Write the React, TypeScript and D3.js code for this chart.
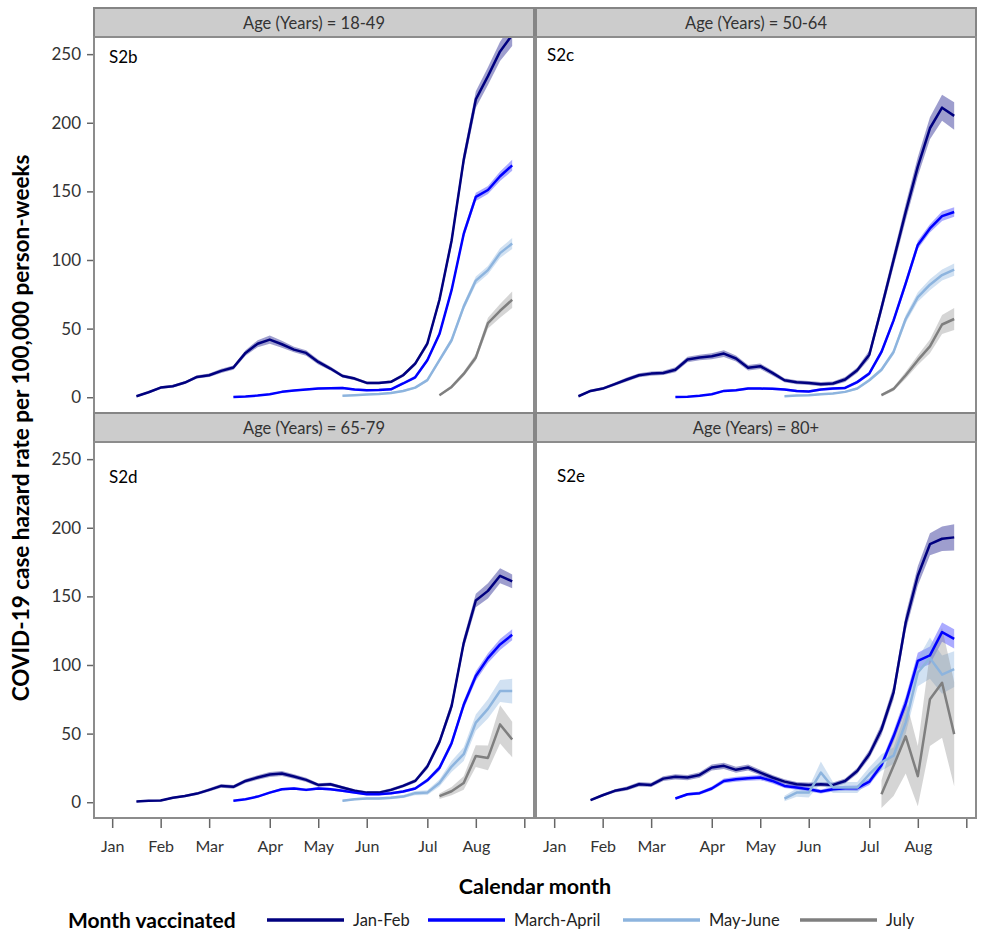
import React, { useRef, useEffect } from "react";
import * as d3 from "d3";

// x axis is week of the year, ticks at the first week of each month
const monthWeeks = [1, 5, 9, 14, 18, 22, 27, 31, 35];
const monthLabels = ["Jan", "Feb", "Mar", "Apr", "May", "Jun", "Jul", "Aug", ""];
const yTicks = [0, 50, 100, 150, 200, 250];

const groups = ["Jan-Feb", "March-April", "May-June", "July"];
const groupColors = ["#00007f", "#0000ff", "#8db4de", "#7f7f7f"];
const bandOpacity = [0.38, 0.33, 0.4, 0.33];

const ageGroups = ["18-49", "50-64", "65-79", "80+"];
const panelTags = ["S2b", "S2c", "S2d", "S2e"];
const startWeeks = [
  [3, 11, 20, 28],
  [3, 11, 20, 28],
  [3, 11, 20, 28],
  [4, 11, 20, 28],
];

// S2b: 18-49
const s2bJanFeb = [0.7, 3.6, 7, 8, 10.7, 14.8, 16, 19.2, 21.6, 32.3, 39, 42, 38.6, 34.7, 32.3, 25.7, 20.9, 15.5, 13.6, 10.4, 10.4, 11.2, 16, 24.5, 39, 71, 114, 173, 217, 234, 252, 264];
const s2bMarApr = [0.2, 0.5, 1.2, 2.2, 3.9, 4.9, 5.6, 6.3, 6.6, 6.8, 5.6, 5.1, 5.3, 5.8, 10, 14.5, 27, 46, 78, 119, 146, 151, 161, 169];
const s2bMayJun = [1, 1.5, 2, 2.4, 3, 4.5, 7, 12.5, 27, 41.5, 66, 85, 92.6, 105, 112];
const s2bJuly = [1.5, 7.5, 17, 29, 54, 63, 71];
const s2bJanFebCi = [0.8, 0.8, 1, 1, 1, 1.2, 1.2, 1.5, 1.5, 2, 2.5, 3, 2.5, 2, 2, 1.8, 1.5, 1.2, 1.2, 1, 1, 1, 1.2, 1.5, 2, 3, 4, 5, 6, 6.5, 7, 8];
const s2bMarAprCi = [0.3, 0.3, 0.4, 0.5, 0.6, 0.7, 0.7, 0.8, 0.8, 0.8, 0.8, 0.8, 0.8, 0.9, 1, 1.2, 1.5, 2, 2.5, 3, 3, 3, 3.5, 4];
const s2bMayJunCi = [0.4, 0.5, 0.5, 0.5, 0.6, 0.7, 0.9, 1.2, 1.5, 2, 2.5, 3, 3, 3.5, 4];
const s2bJulyCi = [0.8, 1.2, 1.8, 2.5, 4, 5, 6];

// S2c: 50-64
const s2cJanFeb = [0.7, 4.6, 6.3, 9.5, 12.9, 16, 17.2, 17.7, 20, 27.5, 28.9, 29.9, 31.8, 28.2, 21.4, 22.6, 17.7, 12.4, 10.9, 10.4, 9.5, 10, 12.9, 19.7, 31, 65, 100, 135, 168, 196, 211, 205];
const s2cMarApr = [0.2, 0.4, 1, 2.2, 4.6, 5.1, 6.3, 6.3, 6.1, 5.6, 4.6, 4.1, 5.6, 6.3, 6.8, 11, 17.3, 33, 56, 83, 111, 123, 132, 135];
const s2cMayJun = [0.7, 1.2, 1.4, 2.2, 2.7, 3.9, 6.3, 12.4, 20, 33, 57, 73, 82, 89, 93];
const s2cJuly = [1.5, 6, 16, 27, 37, 53, 57];
const s2cJanFebCi = [0.8, 1, 1, 1.2, 1.5, 1.5, 1.5, 1.5, 1.8, 2, 2, 2.2, 2.5, 2.2, 2, 2, 1.8, 1.5, 1.5, 1.5, 1.5, 1.5, 1.8, 2, 3, 4, 5, 6, 7, 8, 9.5, 10];
const s2cMarAprCi = [0.3, 0.3, 0.4, 0.6, 0.8, 0.8, 0.9, 0.9, 0.9, 0.9, 0.9, 0.9, 0.9, 1, 1, 1.2, 1.5, 2, 2.5, 3, 3, 3, 3.5, 3.5];
const s2cMayJunCi = [0.4, 0.5, 0.5, 0.5, 0.6, 0.7, 0.9, 1.2, 1.5, 2, 3, 3.5, 4, 4, 4.5];
const s2cJulyCi = [1, 1.5, 2.5, 3.5, 5, 7, 8];

// S2d: 65-79
const s2dJanFeb = [0.5, 1, 1.2, 3.2, 4.6, 6.3, 9, 11.9, 11.2, 15.5, 18, 20.2, 20.9, 18.7, 16.3, 12.6, 13.1, 10.7, 8.3, 7, 7, 9, 11.9, 15.5, 26, 44, 70, 116, 147, 154, 165, 161];
const s2dMarApr = [1, 2.2, 4.1, 7, 9.5, 10, 9, 10, 9.5, 8.3, 7, 5.8, 5.8, 6.6, 7.8, 10, 16, 25, 43, 71, 92, 105, 115, 122];
const s2dMayJun = [1, 2.2, 2.7, 2.7, 3.2, 4.1, 6.6, 7, 14, 26, 35, 58, 68, 81, 81];
const s2dJuly = [4.4, 8, 14, 33.6, 32.3, 56.7, 45.7];
const s2dJanFebCi = [0.5, 0.5, 0.6, 0.8, 0.9, 1, 1.2, 1.3, 1.3, 1.5, 1.6, 1.8, 1.8, 1.6, 1.5, 1.3, 1.3, 1.2, 1.1, 1, 1, 1.1, 1.2, 1.4, 2, 2.5, 3.5, 4, 5, 5.5, 5.5, 5];
const s2dMarAprCi = [0.5, 0.6, 0.7, 0.8, 0.9, 1, 1, 1, 1, 0.9, 0.9, 0.8, 0.8, 0.9, 1, 1.1, 1.5, 2, 2.5, 3, 3.5, 3.5, 4, 4];
const s2dMayJunCi = [0.6, 0.8, 0.9, 0.9, 1, 1.1, 1.5, 1.8, 2.5, 4, 5, 6, 7, 8, 9];
const s2dJulyCi = [2, 3, 5, 8, 9, 14, 13];

// S2e: 80+
const s2eJanFeb = [1.5, 5.1, 8.3, 10, 13.1, 12.6, 17.2, 18.5, 18, 19.9, 25.3, 26.5, 23.6, 25.3, 21.6, 18, 15, 13.1, 12.6, 13.1, 12.6, 15.5, 22.8, 35, 53, 80, 131, 165, 188, 192, 193];
const s2eMarApr = [2.7, 5.8, 6.6, 10, 15.5, 16.8, 17.5, 18, 15.5, 11.9, 10.7, 9.5, 7.8, 9.5, 10.2, 10.2, 15, 27, 48, 72, 103, 107, 124, 119];
const s2eMayJun = [2.7, 7, 7, 21.6, 10.7, 10.7, 10.7, 20.4, 29, 34, 58, 94.5, 105, 93, 97];
const s2eJuly = [5.8, 26.5, 48, 19, 75, 87, 49.6];
const s2eJanFebCi = [0.8, 1, 1.2, 1.4, 1.6, 1.6, 1.8, 1.9, 1.9, 2, 2.2, 2.3, 2.2, 2.2, 2, 1.9, 1.8, 1.7, 1.7, 1.7, 1.7, 1.8, 2.2, 3, 4, 5, 6, 7, 8, 9, 9.5];
const s2eMarAprCi = [0.8, 1, 1.2, 1.4, 1.7, 1.8, 1.8, 1.9, 1.8, 1.6, 1.6, 1.6, 1.5, 1.6, 1.8, 2, 2.5, 3, 4, 5, 6, 6.5, 7, 7];
const s2eMayJunCi = [2, 3, 3.5, 8, 4, 4, 4, 5, 6, 6, 8, 10, 15, 14, 13];
const s2eJulyCi = [10, 22, 27, 22, 34, 40, 38];

const panelValues = [
  [s2bJanFeb, s2bMarApr, s2bMayJun, s2bJuly],
  [s2cJanFeb, s2cMarApr, s2cMayJun, s2cJuly],
  [s2dJanFeb, s2dMarApr, s2dMayJun, s2dJuly],
  [s2eJanFeb, s2eMarApr, s2eMayJun, s2eJuly],
];
const panelCi = [
  [s2bJanFebCi, s2bMarAprCi, s2bMayJunCi, s2bJulyCi],
  [s2cJanFebCi, s2cMarAprCi, s2cMayJunCi, s2cJulyCi],
  [s2dJanFebCi, s2dMarAprCi, s2dMayJunCi, s2dJulyCi],
  [s2eJanFebCi, s2eMarAprCi, s2eMayJunCi, s2eJulyCi],
];

interface Pt {
  w: number;
  v: number;
  c: number;
}

const FONT = "Lato, 'Open Sans', sans-serif";

const App: React.FC = () => {
  const svgRef = useRef<SVGSVGElement>(null);

  useEffect(() => {
    if (!svgRef.current) return;
    const svg = d3.select(svgRef.current);
    svg.selectAll("*").remove();

    // layout
    const colX = [94, 536];
    const rowY = [8, 413];
    const cellW = 440;
    const stripH = 29;
    const plotH = 376;
    const tagOffset = [
      [15, 26],
      [11, 24],
      [15, 41],
      [21, 40],
    ];

    const defs = svg.append("defs");

    panelValues.forEach((series, p) => {
      const row = Math.floor(p / 2);
      const col = p % 2;
      const px = colX[col];
      const top = rowY[row];
      const plotTop = top + stripH;

      const x = d3.scaleLinear().domain([-0.5, 35.8]).range([px, px + cellW]);
      const y = d3
        .scaleLinear()
        .domain([-11.5, 262.5])
        .range([plotTop + plotH, plotTop]);

      // strip header
      svg
        .append("rect")
        .attr("x", px)
        .attr("y", top)
        .attr("width", cellW)
        .attr("height", stripH)
        .attr("fill", "#cccccc")
        .attr("stroke", "#858585")
        .attr("stroke-width", 2);
      svg
        .append("text")
        .attr("x", px + cellW / 2)
        .attr("y", top + stripH / 2 + 6)
        .attr("text-anchor", "middle")
        .attr("font-family", FONT)
        .attr("font-size", 16.5)
        .attr("fill", "#333")
        .text(`Age (Years) = ${ageGroups[p]}`);

      // plot area
      svg
        .append("rect")
        .attr("x", px)
        .attr("y", plotTop)
        .attr("width", cellW)
        .attr("height", plotH)
        .attr("fill", "#fff")
        .attr("stroke", "#8c8c8c")
        .attr("stroke-width", 2);

      defs
        .append("clipPath")
        .attr("id", `clip-${p}`)
        .append("rect")
        .attr("x", px + 1)
        .attr("y", plotTop + 1)
        .attr("width", cellW - 2)
        .attr("height", plotH - 2);

      const g = svg.append("g").attr("clip-path", `url(#clip-${p})`);

      const pts: Pt[][] = series.map((vals, k) =>
        vals.map((v, i) => ({
          w: startWeeks[p][k] + i,
          v,
          c: panelCi[p][k][i],
        })),
      );

      const area = d3
        .area<Pt>()
        .x((d) => x(d.w))
        .y0((d) => y(d.v - d.c))
        .y1((d) => y(d.v + d.c));
      const line = d3
        .line<Pt>()
        .x((d) => x(d.w))
        .y((d) => y(d.v));

      pts.forEach((d, k) => {
        g.append("path")
          .datum(d)
          .attr("fill", groupColors[k])
          .attr("fill-opacity", bandOpacity[k])
          .attr("d", area);
      });
      pts.forEach((d, k) => {
        g.append("path")
          .datum(d)
          .attr("fill", "none")
          .attr("stroke", groupColors[k])
          .attr("stroke-width", 2.5)
          .attr("stroke-linejoin", "round")
          .attr("d", line);
      });

      svg
        .append("text")
        .attr("x", px + tagOffset[p][0])
        .attr("y", plotTop + tagOffset[p][1])
        .attr("font-family", FONT)
        .attr("font-size", 17)
        .attr("fill", "#000")
        .text(panelTags[p]);

      // y axis on the left column
      if (col === 0) {
        const ya = svg
          .append("g")
          .attr("transform", `translate(${px - 1},0)`)
          .call(d3.axisLeft(y).tickValues(yTicks).tickSize(6).tickPadding(6));
        ya.select(".domain").remove();
        ya.selectAll("line").attr("stroke", "#666").attr("stroke-width", 1.5);
        ya.selectAll("text")
          .attr("font-family", FONT)
          .attr("font-size", 17)
          .attr("fill", "#333");
      }

      // x axis on the bottom row
      if (row === 1) {
        const xa = svg
          .append("g")
          .attr("transform", `translate(0,${plotTop + plotH + 1})`)
          .call(
            d3
              .axisBottom(x)
              .tickValues(monthWeeks)
              .tickSize(9)
              .tickPadding(13)
              .tickFormat((_d, i) => monthLabels[i]),
          );
        xa.select(".domain").remove();
        xa.selectAll("line").attr("stroke", "#666").attr("stroke-width", 1.5);
        xa.selectAll("text")
          .attr("font-family", FONT)
          .attr("font-size", 16)
          .attr("fill", "#333");
      }
    });

    // axis titles
    svg
      .append("text")
      .attr("transform", "translate(29,428) rotate(-90)")
      .attr("text-anchor", "middle")
      .attr("font-family", FONT)
      .attr("font-weight", "bold")
      .attr("font-size", 22.5)
      .attr("fill", "#000")
      .text("COVID-19 case hazard rate per 100,000 person-weeks");

    svg
      .append("text")
      .attr("x", 535)
      .attr("y", 894)
      .attr("text-anchor", "middle")
      .attr("font-family", FONT)
      .attr("font-weight", "bold")
      .attr("font-size", 21.5)
      .attr("fill", "#000")
      .text("Calendar month");

    // legend
    const legend = svg.append("g");
    legend
      .append("text")
      .attr("x", 68)
      .attr("y", 927.5)
      .attr("font-family", FONT)
      .attr("font-weight", "bold")
      .attr("font-size", 21)
      .attr("fill", "#000")
      .text("Month vaccinated");

    const legendX = [267, 428, 623, 800];
    groups.forEach((name, k) => {
      legend
        .append("line")
        .attr("x1", legendX[k])
        .attr("x2", legendX[k] + 77)
        .attr("y1", 920)
        .attr("y2", 920)
        .attr("stroke", groupColors[k])
        .attr("stroke-width", 3.5);
      legend
        .append("text")
        .attr("x", legendX[k] + 86)
        .attr("y", 926)
        .attr("font-family", FONT)
        .attr("font-size", 16.5)
        .attr("fill", "#222")
        .text(name);
    });
  }, []);

  return (
    <svg
      ref={svgRef}
      width={990}
      height={951}
      style={{ position: "absolute", left: 0, top: 0, background: "#fff", display: "block" }}
    />
  );
};

export default App;
